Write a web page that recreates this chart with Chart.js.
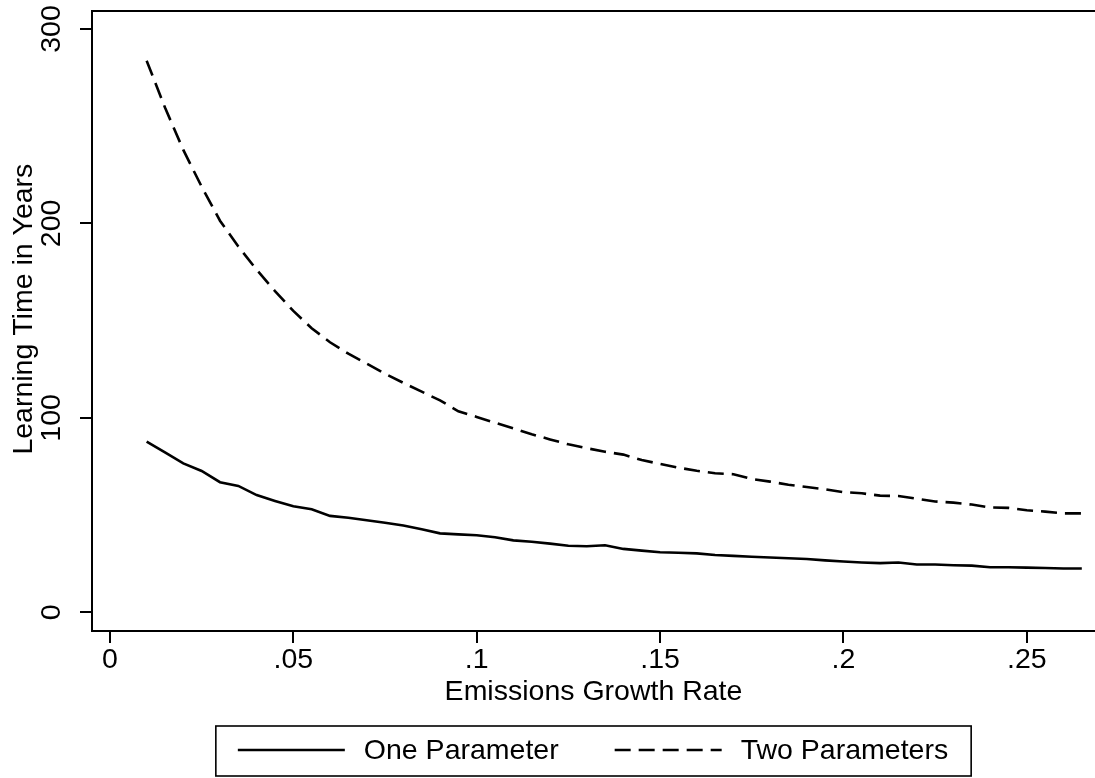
<!DOCTYPE html>
<html><head><meta charset="utf-8">
<script src="https://cdn.jsdelivr.net/npm/chart.js@4.4.1/dist/chart.umd.min.js"></script>
<style>html,body{margin:0;padding:0;background:#fff;}#wrap{width:1095px;height:778px;position:relative;}</style>
</head><body><div id="wrap"><canvas id="c"></canvas></div>
<script>
const growthRate = [0.010,0.015,0.020,0.025,0.030,0.035,0.040,0.045,0.050,0.055,
  0.060,0.065,0.070,0.075,0.080,0.085,0.090,0.095,0.100,0.105,
  0.110,0.115,0.120,0.125,0.130,0.135,0.140,0.145,0.150,0.155,
  0.160,0.165,0.170,0.175,0.180,0.185,0.190,0.195,0.200,0.205,
  0.210,0.215,0.220,0.225,0.230,0.235,0.240,0.245,0.250,0.255,
  0.260,0.265];
const oneParameter = [87.8,82.2,76.6,72.7,66.9,65.0,60.3,57.3,54.5,53.0,
  49.6,48.6,47.3,46.1,44.6,42.7,40.6,40.1,39.6,38.6,
  37.0,36.3,35.3,34.2,34.0,34.5,32.6,31.7,30.9,30.6,
  30.3,29.5,29.0,28.6,28.2,27.8,27.4,26.7,26.1,25.6,
  25.3,25.6,24.6,24.6,24.2,24.0,23.2,23.2,23.0,22.8,
  22.5,22.5];
const twoParameters = [283.7,259.6,237.8,218.9,201.4,188.1,176.2,165.2,155.0,146.1,
  138.9,133.0,127.9,122.7,118.0,113.5,109.0,103.4,100.5,97.5,
  94.6,91.6,88.9,86.4,84.4,82.6,81.1,78.3,76.3,74.4,
  72.8,71.5,71.0,68.6,67.2,65.6,64.4,63.3,61.8,61.2,
  60.0,59.8,58.4,57.0,56.4,55.4,53.9,53.7,52.5,51.8,
  50.9,50.9];
const seriesNames = ['One Parameter','Two Parameters'];
const xTickValues = [0,0.05,0.10,0.15,0.20,0.25];
const xTickLabels = ['0','.05','.1','.15','.2','.25'];
const yTickValues = [0,100,200,300];
const yTickLabels = ['0','100','200','300'];
const xTitle = 'Emissions Growth Rate';
const yTitle = 'Learning Time in Years';

const FONT = '"Liberation Sans", Arial, Helvetica, sans-serif';
const FS = 28.5;
const font = {family: FONT, size: FS, weight: 'normal'};

const frame = {
  id: 'frame',
  afterDraw(chart) {
    const {ctx, chartArea: ca} = chart;
    ctx.save();
    ctx.strokeStyle = '#000';
    ctx.lineWidth = 2;
    ctx.beginPath();
    ctx.moveTo(ca.left - 1, ca.top);
    ctx.lineTo(ca.right + 2, ca.top);
    ctx.stroke();
    ctx.restore();
  }
};

const stataLegend = {
  id: 'stataLegend',
  afterDraw(chart) {
    const {ctx, chartArea: ca} = chart;
    ctx.save();
    ctx.font = `${FS}px ${FONT}`;
    const sample = 107, gapText = 19, gapItem = 56, padL = 22, padR = 23;
    const items = chart.data.datasets.map(ds => ({
      label: ds.label, dash: ds.borderDash || [], lw: ds.borderWidth,
      w: ctx.measureText(ds.label).width
    }));
    let total = padL + padR + gapItem * (items.length - 1);
    items.forEach(it => { total += sample + gapText + it.w; });
    const left = (ca.left + ca.right) / 2 - total / 2;
    const top = 726, h = 50, cy = top + h / 2 - 1;
    ctx.strokeStyle = '#000';
    ctx.lineWidth = 1.6;
    ctx.setLineDash([]);
    ctx.strokeRect(left, top, total, h);
    let x = left + padL;
    ctx.fillStyle = '#000';
    ctx.textBaseline = 'middle';
    ctx.textAlign = 'left';
    items.forEach(it => {
      ctx.beginPath();
      ctx.setLineDash(it.dash);
      ctx.lineWidth = it.lw;
      ctx.moveTo(x, cy);
      ctx.lineTo(x + sample, cy);
      ctx.stroke();
      ctx.setLineDash([]);
      x += sample + gapText;
      ctx.fillText(it.label, x, cy + 1);
      x += it.w + gapItem;
    });
    ctx.restore();
  }
};

new Chart(document.getElementById('c'), {
  type: 'line',
  data: {
    datasets: [
      {label: seriesNames[0], data: growthRate.map((g, i) => ({x: g, y: oneParameter[i]})),
       borderColor: '#000', borderWidth: 2.6, pointRadius: 0, tension: 0, fill: false, borderDash: []},
      {label: seriesNames[1], data: growthRate.map((g, i) => ({x: g, y: twoParameters[i]})),
       borderColor: '#000', borderWidth: 2.6, pointRadius: 0, tension: 0, fill: false, borderDash: [16, 8]}
    ]
  },
  options: {
    responsive: true, maintainAspectRatio: false, animation: false, devicePixelRatio: 1,
    layout: {padding: {top: 11, left: 0, right: 0, bottom: 57}},
    plugins: {legend: {display: false}, tooltip: {enabled: false}},
    scales: {
      x: {
        type: 'linear', min: -0.0049, max: 0.2686,
        afterBuildTicks: s => { s.ticks = xTickValues.map(v => ({value: v})); },
        afterFit: s => { s.height = 90; s.paddingLeft = 0; s.paddingRight = 0; },
        ticks: {callback: (v, i) => xTickLabels[i], font, color: '#000', padding: 0, maxRotation: 0, autoSkip: false},
        grid: {display: true, drawOnChartArea: false, drawTicks: true, tickLength: 12, lineWidth: 2, color: '#000'},
        border: {display: true, width: 2, color: '#000'},
        title: {display: true, text: xTitle, font, color: '#000', padding: {top: 0, bottom: 12}}
      },
      y: {
        type: 'linear', min: -9.62, max: 309.26,
        afterBuildTicks: s => { s.ticks = yTickValues.map(v => ({value: v})); },
        afterFit: s => { s.width = 92; s.paddingTop = 0; s.paddingBottom = 0; },
        ticks: {callback: (v, i) => yTickLabels[i], font, color: '#000', padding: 4, minRotation: 90, maxRotation: 90, crossAlign: 'center', autoSkip: false},
        grid: {display: true, drawOnChartArea: false, drawTicks: true, tickLength: 12, lineWidth: 2, color: '#000'},
        border: {display: true, width: 2, color: '#000'},
        title: {display: true, text: '   ' + yTitle, font, color: '#000', padding: {top: 7, bottom: 0}}
      }
    }
  },
  plugins: [frame, stataLegend]
});
</script></body></html>
